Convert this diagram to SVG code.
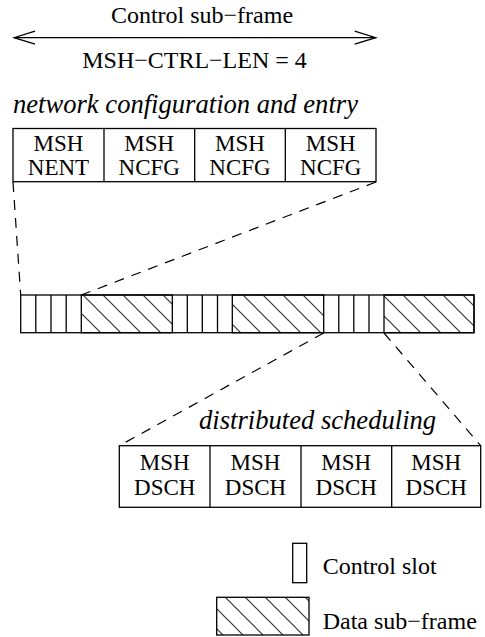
<svg xmlns="http://www.w3.org/2000/svg" width="485" height="637" viewBox="0 0 485 637">
<style>
text{font-family:'Liberation Serif','Times New Roman',Times,serif;fill:#000}
.t{font-size:24px}
.b{font-size:23px;text-anchor:middle}
.i{font-size:26.6px;font-style:italic}
.box{fill:#fff;stroke:#000;stroke-width:1.3}
.ln{stroke:#000;stroke-width:1.3;fill:none}
.dash{stroke:#000;stroke-width:1.2;fill:none;stroke-dasharray:10 8}
.hatch{fill:url(#hp);stroke:#000;stroke-width:1.3}
</style>
<defs>
<pattern id="hp" patternUnits="userSpaceOnUse" x="8" y="0" width="20" height="20">
<path d="M-5,-5 L25,25 M-5,15 L5,25 M15,-5 L25,5" stroke="#333" stroke-width="1.2" fill="none"/>
</pattern>
<marker id="av" markerUnits="userSpaceOnUse" viewBox="-23 -9 25 18" markerWidth="25" markerHeight="18" refX="0" refY="0" orient="auto-start-reverse">
<path d="M-21,-6.5 L0,0 L-21,6.5" fill="none" stroke="#000" stroke-width="1.3"/>
</marker>
</defs>
<rect width="485" height="637" fill="#fff"/>

<g id="header">
<text class="t" x="202" y="23" text-anchor="middle">Control sub−frame</text>
<text class="t" x="194.5" y="68" text-anchor="middle">MSH−CTRL−LEN = 4</text>
<text class="i" x="13" y="113">network configuration and entry</text>
</g>

<g id="connectors">
<line class="ln" x1="14" y1="37.7" x2="375.7" y2="37.7" marker-start="url(#av)" marker-end="url(#av)"/>
<line class="dash" x1="13" y1="182" x2="20.7" y2="295"/>
<line class="dash" x1="376" y1="182" x2="81.3" y2="295"/>
<line class="dash" x1="323.7" y1="333" x2="119.3" y2="445.7"/>
<line class="dash" x1="384" y1="333" x2="480.7" y2="445.7"/>
</g>

<g id="nent-box">
<rect class="box" x="13" y="128.5" width="363" height="53.2"/>
<line class="ln" x1="104" y1="128.5" x2="104" y2="181.7"/>
<line class="ln" x1="194.7" y1="128.5" x2="194.7" y2="181.7"/>
<line class="ln" x1="285.3" y1="128.5" x2="285.3" y2="181.7"/>
<text class="b" x="58.5" y="151">MSH</text><text class="b" x="58.5" y="175">NENT</text>
<text class="b" x="149.3" y="151">MSH</text><text class="b" x="149.3" y="175">NCFG</text>
<text class="b" x="240" y="151">MSH</text><text class="b" x="240" y="175">NCFG</text>
<text class="b" x="330.7" y="151">MSH</text><text class="b" x="330.7" y="175">NCFG</text>
</g>

<g id="frame">
<rect class="box" x="20.7" y="295" width="453.3" height="37.7"/>
<rect class="hatch" x="81.3" y="295" width="91" height="37.7"/>
<rect class="hatch" x="232.3" y="295" width="91.4" height="37.7"/>
<rect class="hatch" x="384" y="295" width="90" height="37.7"/>
<line class="ln" x1="35.8" y1="295" x2="35.8" y2="332.7"/>
<line class="ln" x1="51" y1="295" x2="51" y2="332.7"/>
<line class="ln" x1="66.2" y1="295" x2="66.2" y2="332.7"/>
<line class="ln" x1="187.3" y1="295" x2="187.3" y2="332.7"/>
<line class="ln" x1="202.3" y1="295" x2="202.3" y2="332.7"/>
<line class="ln" x1="217.5" y1="295" x2="217.5" y2="332.7"/>
<line class="ln" x1="338.8" y1="295" x2="338.8" y2="332.7"/>
<line class="ln" x1="353.8" y1="295" x2="353.8" y2="332.7"/>
<line class="ln" x1="369" y1="295" x2="369" y2="332.7"/>
</g>

<g id="dsch-box">
<text class="i" x="199" y="429">distributed scheduling</text>
<rect class="box" x="119.3" y="445.7" width="361.4" height="61.6"/>
<line class="ln" x1="210" y1="445.7" x2="210" y2="507.3"/>
<line class="ln" x1="301" y1="445.7" x2="301" y2="507.3"/>
<line class="ln" x1="391.7" y1="445.7" x2="391.7" y2="507.3"/>
<text class="b" x="164.7" y="470">MSH</text><text class="b" x="164.7" y="495">DSCH</text>
<text class="b" x="255.5" y="470">MSH</text><text class="b" x="255.5" y="495">DSCH</text>
<text class="b" x="346.3" y="470">MSH</text><text class="b" x="346.3" y="495">DSCH</text>
<text class="b" x="436.2" y="470">MSH</text><text class="b" x="436.2" y="495">DSCH</text>
</g>

<g id="legend-control">
<rect class="box" x="292.7" y="543.3" width="14" height="39.4"/>
<text class="t" x="322.7" y="574">Control slot</text>
</g>
<g id="legend-data">
<rect class="hatch" x="216.7" y="597.3" width="92.3" height="37.7"/>
<text class="t" x="322.7" y="629">Data sub−frame</text>
</g>
</svg>
